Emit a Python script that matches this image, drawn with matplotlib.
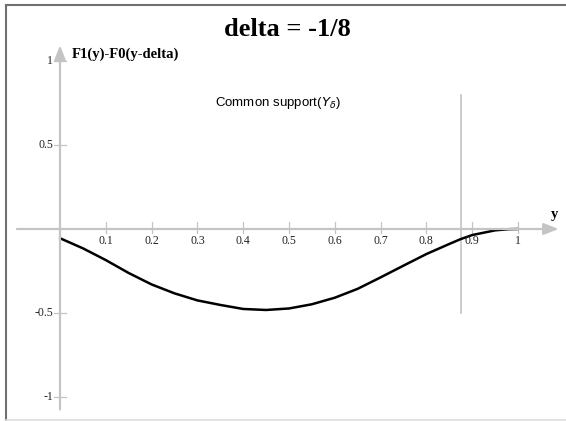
import matplotlib.pyplot as plt
import numpy as np

# curve values
ys = [0.0, 0.05, 0.1, 0.15, 0.2, 0.25, 0.3, 0.35, 0.4, 0.45, 0.5,
      0.55, 0.6, 0.65, 0.7, 0.75, 0.8, 0.85, 0.875, 0.9, 0.95, 0.98, 1.0]
diff = [-0.055, -0.115, -0.185, -0.262, -0.33, -0.383, -0.425, -0.452, -0.476, -0.482, -0.473,
        -0.448, -0.409, -0.356, -0.288, -0.218, -0.149, -0.089, -0.06, -0.036, -0.008, -0.001, 0.0]

xticks = [0.1, 0.2, 0.3, 0.4, 0.5, 0.6, 0.7, 0.8, 0.9, 1.0]
xtick_labels = ["0.1", "0.2", "0.3", "0.4", "0.5", "0.6", "0.7", "0.8", "0.9", "1"]
yticks = [1.0, 0.5, -0.5, -1.0]
ytick_labels = ["1", "0.5", "-0.5", "-1"]
support_end = 0.875  # 1 + delta
support_span = (-0.5, 0.8)

W, H = 566, 421
fig = plt.figure(figsize=(W / 100, H / 100), dpi=100)
# pixel mapping: x_px = 60 + 458*x ; y_px = 229 - 168*y
sx, x0 = 458.0, 60.0
sy, y0 = 168.0, 229.0
ax = fig.add_axes([0, 0, 1, 1])
ax.set_xlim((0 - x0) / sx, (W - x0) / sx)
ax.set_ylim((y0 - H) / sy, y0 / sy)
ax.axis("off")

grey = "#c4c4c4"
serif = "Liberation Serif"

# axes with arrows
ax.annotate("", xy=(1.095, 0), xytext=(-0.1, 0),
            arrowprops=dict(arrowstyle="-|>,head_length=0.9,head_width=0.35", color=grey, lw=1.6))
ax.annotate("", xy=(0, 1.11), xytext=(0, -1.09),
            arrowprops=dict(arrowstyle="-|>,head_length=0.9,head_width=0.35", color=grey, lw=1.6))

# ticks
for x, lab in zip(xticks, xtick_labels):
    ax.plot([x, x], [-4 / sy, 7 / sy], color=grey, lw=0.9)
    ax.text(x, -12 / sy, lab, ha="center", va="center", fontsize=8.5,
            family=serif, color="#222222")
for y, lab in zip(yticks, ytick_labels):
    ax.plot([-6 / sx, 6 / sx], [y, y], color=grey, lw=0.9)
    ax.text(-7 / sx, y, lab, ha="right", va="center", fontsize=8.5,
            family=serif, color="#222222")

# support boundary
ax.plot([support_end, support_end], support_span, color=grey, lw=1.2)

# curve
ax.plot(ys, diff, color="black", lw=1.8, solid_capstyle="round", solid_joinstyle="round")

# labels
ax.text(12 / sx, (y0 - 54) / sy, "F1(y)-F0(y-delta)", ha="left", va="center",
        fontsize=10.5, fontweight="bold", family=serif)
ax.text((555 - x0) / sx, (y0 - 214) / sy, "y", ha="center", va="center",
        fontsize=10.5, fontweight="bold", family=serif)
ax.text((278 - x0) / sx, (y0 - 103) / sy, r"Common support($Y_{\delta}$)",
        ha="center", va="center", fontsize=9.5, family="Liberation Sans")
ax.text((287 - x0) / sx, (y0 - 30) / sy, "delta = -1/8", ha="center", va="center",
        fontsize=19, fontweight="bold", family=serif)

# frame lines around the picture
fig.add_artist(plt.Line2D([6 / W, 6 / W], [0, 1 - 5 / H], color="#707070", lw=1.5,
                          transform=fig.transFigure))
fig.add_artist(plt.Line2D([6 / W, 1], [1 - 5 / H, 1 - 5 / H], color="#707070", lw=1.5,
                          transform=fig.transFigure))
fig.add_artist(plt.Line2D([6 / W, 1], [1.5 / H, 1.5 / H], color="#dddddd", lw=1.2,
                          transform=fig.transFigure))

fig.savefig("out.png", dpi=100)
